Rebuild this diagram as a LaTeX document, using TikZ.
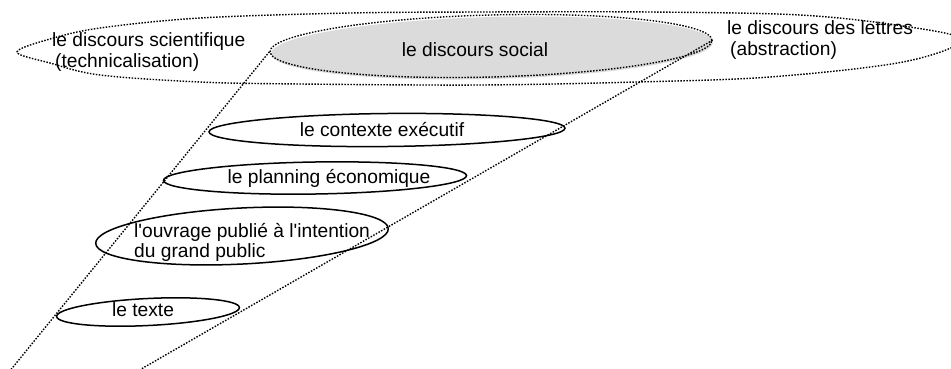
\documentclass[tikz,border=0pt]{standalone}
\usepackage{fontspec}
\setmainfont{Liberation Sans}[Ligatures=TeXOff]
\usetikzlibrary{shapes.geometric}
\begin{document}
\begin{tikzpicture}[x=1pt,y=-1pt,
  dotline/.style={line width=1.4pt, dash pattern=on 1.5pt off 1.5pt},
  solidell/.style={ellipse, draw, line width=1.5pt, inner sep=0pt},
  lbl/.style={font=\fontsize{19.2pt}{20.5pt}\selectfont, inner sep=0pt, align=left}]
\useasboundingbox (0,0) rectangle (951,368);
% outer region
\draw[dotline] plot[smooth cycle, tension=0.55] coordinates {
  (17,52) (50,39) (100,28) (200,18) (350,13) (480,12) (650,12) (800,15)
  (903,26) (962,40) (903,62) (770,77) (637,82) (480,85) (300,84) (200,82)
  (100,75) (50,63)};
% gray social ellipse
\fill[gray!28] (492,48) ellipse[x radius=221pt, y radius=31pt, rotate=1.5];
\node[ellipse, dotline, draw, inner sep=0pt, minimum width=442pt, minimum height=62pt, rotate=1.5] (social) at (491,46) {};
\node[lbl] (socialtxt) at (475,50) {le discours social};
\node[lbl, anchor=west] (sci) at (52,52) {le discours scientifique\\\hspace*{3pt}(technicalisation)};
\node[lbl, anchor=west] (let) at (727,40) {le discours des lettres\\\hspace*{3pt}(abstraction)};
% lower ellipses
\node[solidell, minimum width=356pt, minimum height=33pt, rotate=0.6] (ctx) at (387,130) {};
\node[lbl] (ctxtxt) at (382,130) {le contexte exécutif};
\node[solidell, minimum width=303pt, minimum height=32pt, rotate=0.9] (plan) at (315,178) {};
\node[lbl] (plantxt) at (329,178) {le planning économique};
\node[solidell, minimum width=293pt, minimum height=56pt, rotate=2.9] (ouv) at (242,236) {};
\node[lbl, anchor=west] (ouvtxt) at (134,242.5) {l'ouvrage publié à l'intention\\du grand public};
\node[solidell, minimum width=183pt, minimum height=27pt, rotate=2.8] (txt) at (148,312) {};
\node[lbl] (txttxt) at (143,310) {le texte};
% cone lines
\coordinate (lend) at (9,372);
\coordinate (rend) at (136,372);
\draw[dotline] (social.west) -- (lend);
\draw[dotline] (social.east) -- (rend);
\end{tikzpicture}
\end{document}
